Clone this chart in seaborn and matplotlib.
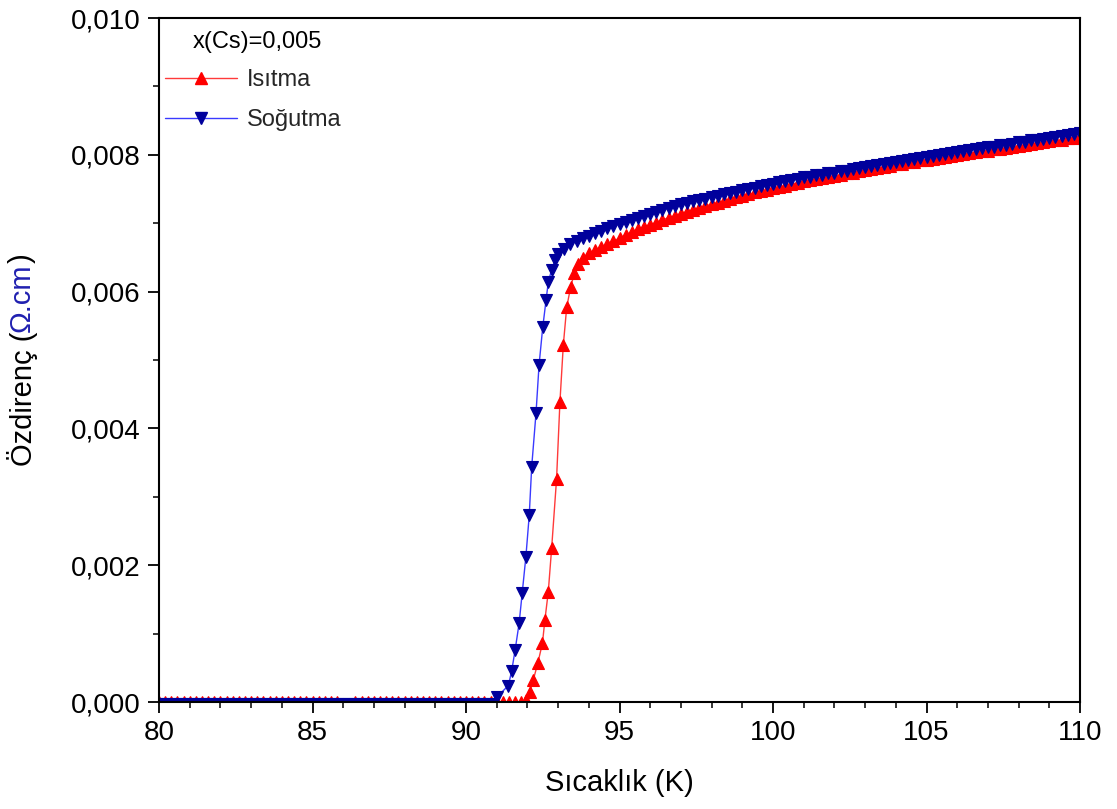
import numpy as np
import pandas as pd
import matplotlib
matplotlib.use("Agg")
import matplotlib.pyplot as plt
import seaborn as sns
from matplotlib.lines import Line2D
from matplotlib.ticker import MultipleLocator, FuncFormatter

sns.set_theme(style="ticks")
plt.rcParams['font.family'] = ['Liberation Sans', 'DejaVu Sans']

# ---------------- data (temperature in K, resistivity in mOhm.cm) ----------------
base_T = [80.0, 80.2, 80.4, 80.6, 80.8, 81.0, 81.2, 81.4, 81.6, 81.8,
          82.0, 82.2, 82.4, 82.6, 82.8, 83.0, 83.2, 83.4, 83.6, 83.8,
          84.0, 84.2, 84.4, 84.6, 84.8, 85.0, 85.2, 85.4, 85.6, 85.8,
          86.0, 86.2, 86.4, 86.6, 86.8, 87.0, 87.2, 87.4, 87.6, 87.8,
          88.0, 88.2, 88.4, 88.6, 88.8, 89.0, 89.2, 89.4, 89.6, 89.8,
          90.0, 90.2, 90.4, 90.6, 90.8, 91.0, 91.2, 91.4, 91.6, 91.8]

upper_T = [93.8, 94.0,
           94.2, 94.4, 94.6, 94.8, 95.0,
           95.2, 95.4, 95.6, 95.8, 96.0,
           96.2, 96.4, 96.6, 96.8, 97.0,
           97.2, 97.4, 97.6, 97.8, 98.0,
           98.2, 98.4, 98.6, 98.8, 99.0,
           99.2, 99.4, 99.6, 99.8, 100.0,
           100.2, 100.4, 100.6, 100.8, 101.0,
           101.2, 101.4, 101.6, 101.8, 102.0,
           102.2, 102.4, 102.6, 102.8, 103.0,
           103.2, 103.4, 103.6, 103.8, 104.0,
           104.2, 104.4, 104.6, 104.8, 105.0,
           105.2, 105.4, 105.6, 105.8, 106.0,
           106.2, 106.4, 106.6, 106.8, 107.0,
           107.2, 107.4, 107.6, 107.8, 108.0,
           108.2, 108.4, 108.6, 108.8, 109.0,
           109.2, 109.4, 109.6, 109.8, 110.0]

# Isitma (heating)
heat_base_T = [t for t in base_T if not (85.9 < t < 86.3)]
heat_base_rho = [0.0] * len(heat_base_T)
heat_trans_T = [91.95, 92.08, 92.19, 92.34, 92.49, 92.57, 92.68, 92.79, 92.95,
                93.06, 93.17, 93.28, 93.41, 93.53, 93.66]
heat_trans_rho = [0.03, 0.15, 0.32, 0.57, 0.86, 1.20, 1.61, 2.25, 3.26,
                  4.39, 5.22, 5.77, 6.07, 6.27, 6.41]
heat_upper_rho = [6.49, 6.56,
                  6.61, 6.65, 6.69, 6.74, 6.78,
                  6.83, 6.87, 6.91, 6.95, 6.98,
                  7.01, 7.05, 7.08, 7.11, 7.14,
                  7.17, 7.20, 7.22, 7.25, 7.28,
                  7.30, 7.33, 7.35, 7.38, 7.40,
                  7.42, 7.45, 7.47, 7.49, 7.51,
                  7.53, 7.55, 7.57, 7.59, 7.61,
                  7.63, 7.64, 7.66, 7.68, 7.69,
                  7.71, 7.73, 7.74, 7.76, 7.78,
                  7.79, 7.81, 7.82, 7.84, 7.86,
                  7.87, 7.89, 7.90, 7.92, 7.93,
                  7.94, 7.96, 7.97, 7.98, 8.00,
                  8.01, 8.02, 8.04, 8.05, 8.06,
                  8.08, 8.09, 8.10, 8.12, 8.13,
                  8.14, 8.16, 8.17, 8.18, 8.20,
                  8.21, 8.22, 8.24, 8.25, 8.27]

# Sogutma (cooling)
cool_base_T = [t for t in base_T if t <= 90.85]
cool_base_rho = [-0.03] * len(cool_base_T)
cool_trans_T = [91.02, 91.38, 91.49, 91.60, 91.73, 91.83, 91.95, 92.06, 92.14,
                92.28, 92.38, 92.50, 92.61, 92.68, 92.79, 92.90, 93.0, 93.2,
                93.4, 93.6]
cool_trans_rho = [0.08, 0.24, 0.46, 0.76, 1.15, 1.59, 2.12, 2.73, 3.44,
                  4.22, 4.93, 5.48, 5.88, 6.14, 6.32, 6.46, 6.55, 6.63,
                  6.69, 6.74]
cool_upper_rho = [6.78, 6.82,
                  6.86, 6.89, 6.93, 6.96, 6.99,
                  7.02, 7.05, 7.08, 7.11, 7.14,
                  7.17, 7.20, 7.22, 7.25, 7.28,
                  7.30, 7.32, 7.34, 7.36, 7.38,
                  7.40, 7.42, 7.44, 7.46, 7.48,
                  7.50, 7.52, 7.54, 7.56, 7.58,
                  7.60, 7.62, 7.63, 7.65, 7.67,
                  7.68, 7.70, 7.71, 7.73, 7.74,
                  7.76, 7.77, 7.79, 7.80, 7.82,
                  7.83, 7.85, 7.86, 7.88, 7.89,
                  7.91, 7.92, 7.94, 7.96, 7.97,
                  7.98, 8.00, 8.01, 8.03, 8.04,
                  8.05, 8.07, 8.08, 8.10, 8.11,
                  8.12, 8.14, 8.15, 8.16, 8.18,
                  8.19, 8.21, 8.22, 8.23, 8.25,
                  8.26, 8.28, 8.29, 8.30, 8.32]

series_labels = ["Isıtma", "Soğutma"]
title_text = "x(Cs)=0,005"
x_label = "Sıcaklık (K)"
y_label_parts = ["Özdirenç (", "Ω.cm", ")"]

# ---------------- build frames ----------------
heat = pd.DataFrame({
    "T": heat_base_T + heat_trans_T + upper_T,
    "rho": np.array(heat_base_rho + heat_trans_rho + heat_upper_rho) * 1e-3,
})
cool = pd.DataFrame({
    "T": cool_base_T + cool_trans_T + upper_T,
    "rho": np.array(cool_base_rho + cool_trans_rho + cool_upper_rho) * 1e-3,
})

W, H = 1117, 809
fig = plt.figure(figsize=(W / 100, H / 100), dpi=100)
ax = fig.add_axes([159 / W, 1 - 702 / H, (1080 - 159) / W, (702 - 18) / H])
ax.set_facecolor("white")

red_line, red_mark = "#ff3a3a", "#ff0000"
blue_line, blue_mark = "#3a3aff", "#00009c"
ms = 8

sns.lineplot(data=heat, x="T", y="rho", ax=ax, sort=False, estimator=None,
             color=red_line, linewidth=1.0, marker="^", markersize=ms,
             markerfacecolor=red_mark, markeredgecolor=red_mark,
             markeredgewidth=0.8, legend=False)
sns.lineplot(data=cool, x="T", y="rho", ax=ax, sort=False, estimator=None,
             color=blue_line, linewidth=1.0, marker="v", markersize=ms,
             markerfacecolor=blue_mark, markeredgecolor=blue_mark,
             markeredgewidth=0.8, legend=False)

ax.set_xlim(80, 110)
ax.set_ylim(0, 0.010)
ax.xaxis.set_major_locator(MultipleLocator(5))
ax.xaxis.set_minor_locator(MultipleLocator(1))
ax.yaxis.set_major_locator(MultipleLocator(0.002))
ax.yaxis.set_minor_locator(MultipleLocator(0.001))
ax.yaxis.set_major_formatter(FuncFormatter(lambda v, p: f"{v:.3f}".replace(".", ",")))
ax.xaxis.set_major_formatter(FuncFormatter(lambda v, p: f"{v:.0f}"))

for s in ax.spines.values():
    s.set_linewidth(1.5)
    s.set_color("black")
ax.tick_params(which="major", direction="out", length=8, width=1.3,
               labelsize=20, colors="black", pad=5,
               top=False, right=False)
ax.tick_params(which="minor", direction="out", length=4.3, width=1.3,
               top=False, right=False)

ax.set_xlabel("")
ax.set_ylabel("")
fig.text((159 + 1080) / 2 / W, 1 - 783 / H, x_label, ha="center", va="center",
         fontsize=21, color="black")

# y label (multi-coloured)
fs_lab = 21
t1 = fig.text(22 / W, 0.5, y_label_parts[0], rotation=90, ha="center",
              va="bottom", fontsize=fs_lab, color="black")
t2 = ax.annotate(y_label_parts[1], xy=(0.5, 1.0), xycoords=t1, rotation=90,
                 ha="center", va="bottom", fontsize=fs_lab, color="#2020b0",
                 annotation_clip=False)
t3 = ax.annotate(y_label_parts[2], xy=(0.5, 1.0), xycoords=t2, rotation=90,
                 ha="center", va="bottom", fontsize=fs_lab, color="black",
                 annotation_clip=False)

# legend
handles = [
    Line2D([], [], color=red_line, lw=1.0, marker="^", markersize=ms,
           markerfacecolor=red_mark, markeredgecolor=red_mark),
    Line2D([], [], color=blue_line, lw=1.0, marker="v", markersize=ms,
           markerfacecolor=blue_mark, markeredgecolor=blue_mark),
]
leg = ax.legend(handles, series_labels, loc="upper left",
                bbox_to_anchor=(165 / W, 1 - 69 / H),
                bbox_transform=fig.transFigure, frameon=False,
                fontsize=17, handlelength=3.05, handletextpad=0.42,
                labelspacing=0.78, borderpad=0, borderaxespad=0, numpoints=1)
fig.text(193 / W, 1 - 42 / H, title_text, ha="left", va="center",
         fontsize=17, color="black")

# centre the y label on the axes
fig.canvas.draw()
r = fig.canvas.get_renderer()
b1 = t1.get_window_extent(r)
b3 = t3.get_window_extent(r)
total = b3.y1 - b1.y0
centre = (702 + 18) / 2  # from top
t1.set_y((H - centre - total / 2) / H)

fig.savefig("out.png", dpi=100, facecolor="white")
